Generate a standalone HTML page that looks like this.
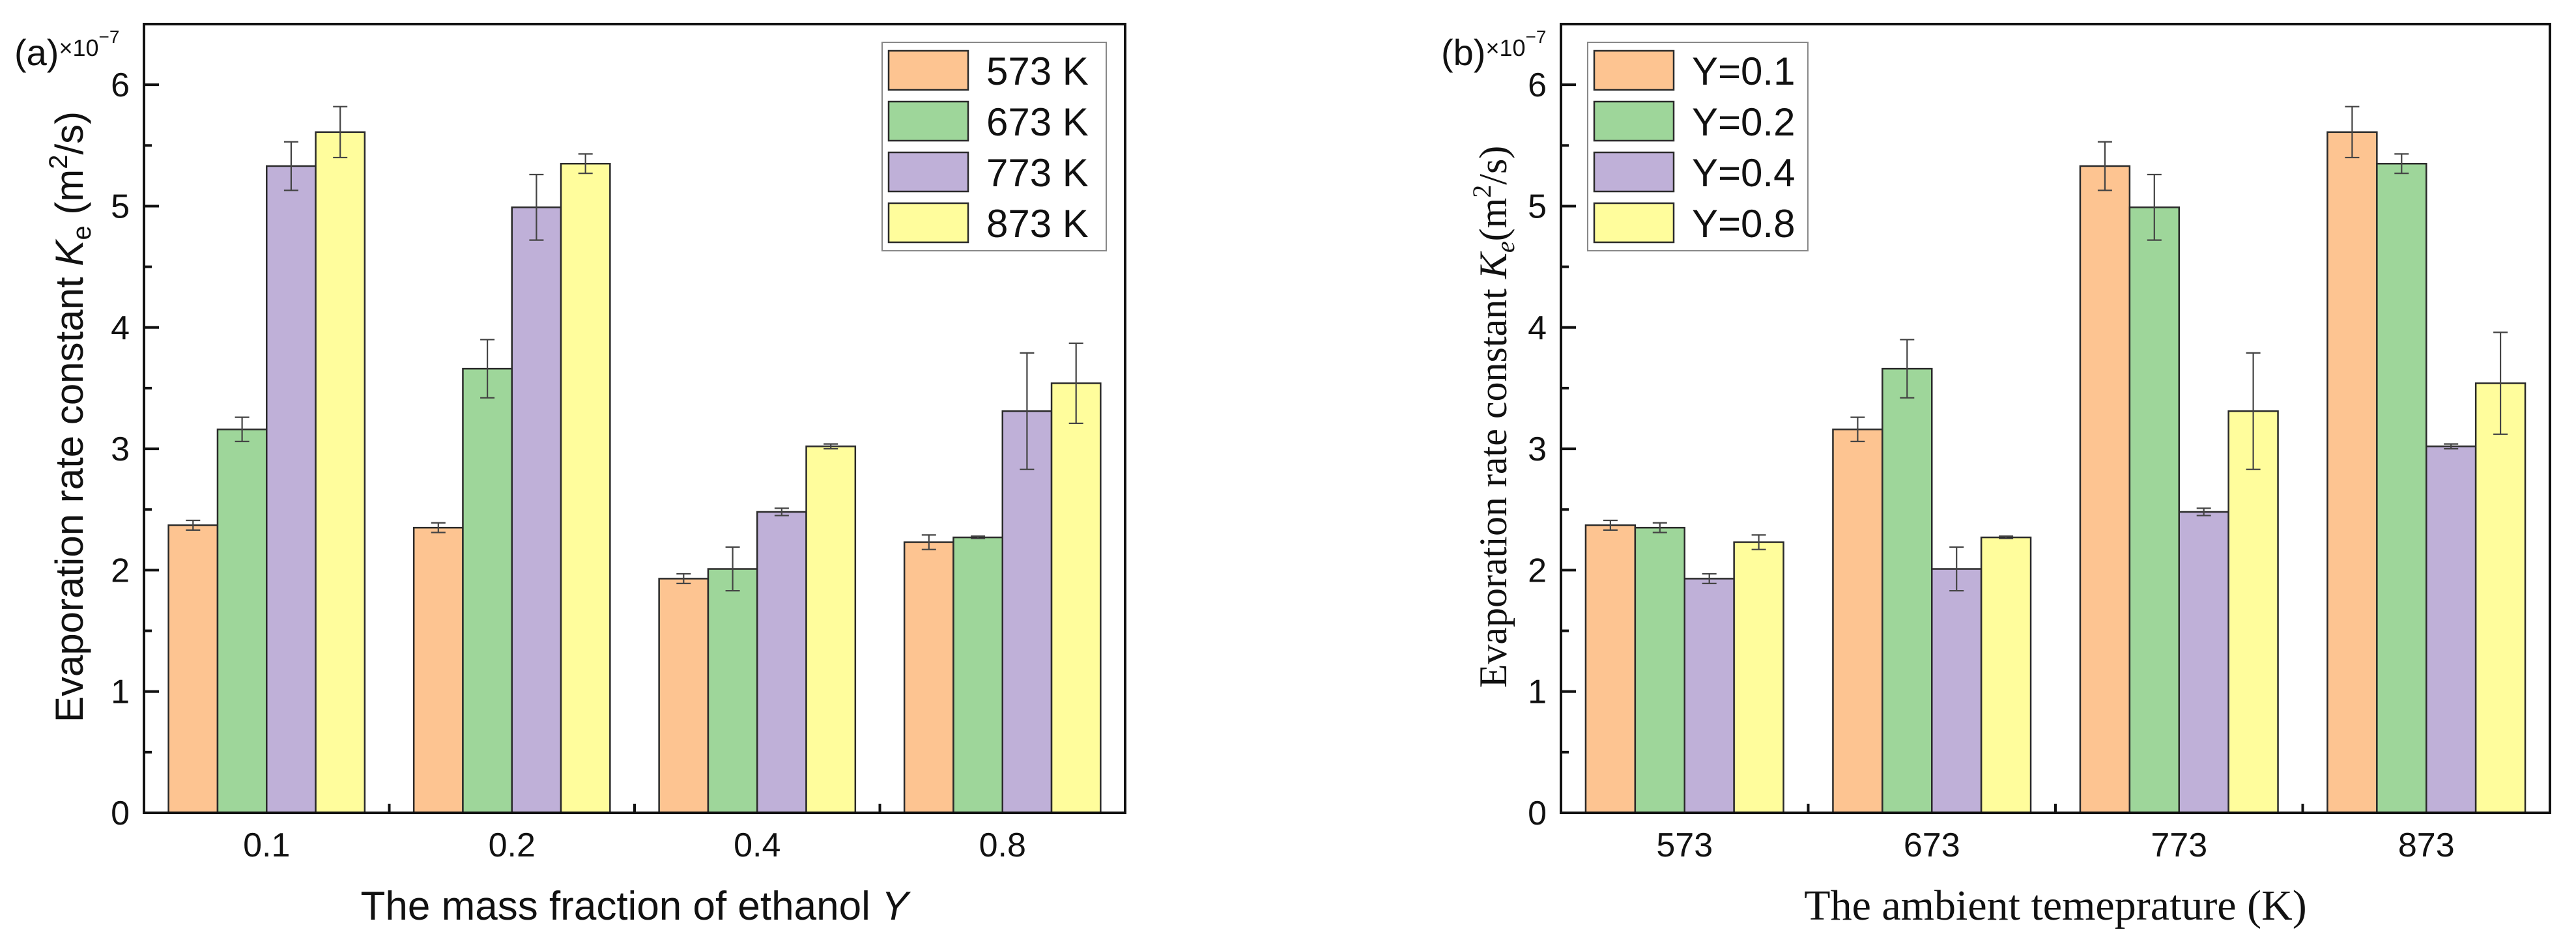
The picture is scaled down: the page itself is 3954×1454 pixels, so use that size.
<!DOCTYPE html>
<html><head><meta charset="utf-8">
<style>
html,body{margin:0;padding:0;background:#fff;}
svg{display:block;}
</style></head>
<body>
<svg id="fig" width="3954" height="1454" viewBox="0 0 3954 1454" xmlns="http://www.w3.org/2000/svg"></svg>
<script>
// Panel (a): groups = ethanol mass fraction, series = temperature
const catsA = ["0.1","0.2","0.4","0.8"];
const seriesA = ["573 K","673 K","773 K","873 K"];
const valsA573 = [2.37, 2.35, 1.93, 2.23];
const valsA673 = [3.16, 3.66, 2.01, 2.27];
const valsA773 = [5.33, 4.99, 2.48, 3.31];
const valsA873 = [5.61, 5.35, 3.02, 3.54];
const errA573 = [0.04, 0.04, 0.04, 0.06];
const errA673 = [0.10, 0.24, 0.18, 0.01];
const errA773 = [0.20, 0.27, 0.03, 0.48];
const errA873 = [0.21, 0.08, 0.02, 0.33];
// Panel (b): groups = temperature, series = Y
const catsB = ["573","673","773","873"];
const seriesB = ["Y=0.1","Y=0.2","Y=0.4","Y=0.8"];
const valsB01 = [2.37, 3.16, 5.33, 5.61];
const valsB02 = [2.35, 3.66, 4.99, 5.35];
const valsB04 = [1.93, 2.01, 2.48, 3.02];
const valsB08 = [2.23, 2.27, 3.31, 3.54];
const errB01 = [0.04, 0.10, 0.20, 0.21];
const errB02 = [0.04, 0.24, 0.27, 0.08];
const errB04 = [0.04, 0.18, 0.03, 0.02];
const errB08 = [0.06, 0.01, 0.48, 0.42];
const yTicks = [0,1,2,3,4,5,6];

const colors = ["#FDC491","#9ED69A","#BFB0D8","#FFFD9C"];
const NS = "http://www.w3.org/2000/svg";
const svg = document.getElementById("fig");
function mk(tag, attrs, parent){
  const e = document.createElementNS(NS, tag);
  for (const k in attrs) e.setAttribute(k, attrs[k]);
  (parent||svg).appendChild(e);
  return e;
}
const Y0 = 1248, YTOP = 37, YMAX = 6.5;
function yScale(v){ return Y0 - v/YMAX*(Y0-YTOP); }

function panel(opt){
  const g = mk("g", {});
  
  
  const L = opt.left, R = opt.right, n = opt.cats.length;
  const step = (R-L)/n;
  const xCenter = i => L + step*(i+0.5);
  const bw = step*0.8/opt.series.length;
  // bars
  opt.series.forEach((s, si) => {
    const vals = opt.vals[si], errs = opt.errs[si];
    vals.forEach((v, ci) => {
      const x = xCenter(ci) - step*0.4 + si*bw;
      const r = mk("rect", {x:x, y:yScale(v), width:bw, height:Y0-yScale(v), fill:colors[si], stroke:"#2a2a2a", "stroke-width":2.5}, g);
      
      
      const cx = x + bw/2, e = errs[ci];
      const eb = mk("path", {d:`M${cx},${yScale(v+e)}V${yScale(v-e)}M${cx-11},${yScale(v+e)}H${cx+11}M${cx-11},${yScale(v-e)}H${cx+11}`, stroke:"#444", "stroke-width":2.2, fill:"none"}, g);
      
      
    });
  });
  // axes frame
  const fr = mk("rect", {x:L, y:YTOP, width:R-L, height:Y0-YTOP, fill:"none", stroke:"#111", "stroke-width":4}, g);
  
  
  // y ticks
  yTicks.forEach(t => {
    const y = yScale(t);
    const tk = mk("line", {x1:L, x2:L+23, y1:y, y2:y, stroke:"#111", "stroke-width":4}, g);
    
    
    const m = yScale(t+0.5);
    if (t < 6) {
      const mt = mk("line", {x1:L, x2:L+12, y1:m, y2:m, stroke:"#111", "stroke-width":4}, g);
      
      
    }
    const tl = mk("text", {x:L-22, y:y+18, "text-anchor":"end", "font-family":"Liberation Sans, Arial, sans-serif", "font-size":52, fill:"#111"}, g);
    tl.textContent = t;
    
    
  });
  // x ticks and labels
  opt.cats.forEach((c, i) => {
    if (i > 0) {
      const xb = L + step*i;
      const t = mk("line", {x1:xb, x2:xb, y1:Y0, y2:Y0-14, stroke:"#111", "stroke-width":4}, g);
      
      
    }
    const tl = mk("text", {x:xCenter(i), y:1315, "text-anchor":"middle", "font-family":"Liberation Sans, Arial, sans-serif", "font-size":52, fill:"#111"}, g);
    tl.textContent = c;
    
    
  });
  // legend
  const lb = mk("rect", {x:opt.legX, y:65, width:opt.legW, height:320, fill:"#fff", stroke:"#888", "stroke-width":2}, g);
  
  
  opt.series.forEach((s, si) => {
    const yy = 78 + si*78;
    const sw = mk("rect", {x:opt.legX+10, y:yy, width:122, height:60, fill:colors[si], stroke:"#2a2a2a", "stroke-width":2.5}, g);
    
    
    const tx = mk("text", {x:opt.legX+160, y:yy+52, "font-family":"Liberation Sans, Arial, sans-serif", "font-size":60, fill:"#111"}, g);
    tx.textContent = s;
    
    
  });
  return {g, L, R};
}

const pa = panel({name:"panel-a", left:221, right:1727, cats:catsA, series:seriesA,
  vals:[valsA573,valsA673,valsA773,valsA873], errs:[errA573,errA673,errA773,errA873],
  legX:1354, legW:344});
const pb = panel({name:"panel-b", left:2396, right:3914, cats:catsB, series:seriesB,
  vals:[valsB01,valsB02,valsB04,valsB08], errs:[errB01,errB02,errB04,errB08],
  legX:2437, legW:338});

// panel labels with multiplier
function corner(x, letter, name){
  const t = mk("text", {x:x, y:100, "font-family":"Liberation Sans, Arial, sans-serif", "font-size":56, fill:"#111"});
  
  
  const a = mk("tspan", {}, t); a.textContent = "(" + letter + ")";
  const b = mk("tspan", {"font-size":36, dy:-14}, t); b.textContent = "×10";
  const c = mk("tspan", {"font-size":28, dy:-20}, t); c.textContent = "−7";
}
corner(22, "a", "panel-a-label");
corner(2212, "b", "panel-b-label");

// y-axis titles
const ya = mk("text", {transform:"translate(127,640) rotate(-90)", "text-anchor":"middle", "font-family":"Liberation Sans, Arial, sans-serif", "font-size":60, fill:"#111"});


ya.innerHTML = 'Evaporation rate constant <tspan font-style="italic">K</tspan><tspan font-size="40" dy="12">e</tspan><tspan dy="-12"> (m</tspan><tspan font-size="40" dy="-24">2</tspan><tspan dy="24">/s)</tspan>';

const yb = mk("text", {transform:"translate(2312,640) rotate(-90)", "text-anchor":"middle", "font-family":"Liberation Serif, Times New Roman, serif", "font-size":60, fill:"#111"});


yb.innerHTML = 'Evaporation rate constant <tspan font-style="italic">K</tspan><tspan font-size="40" font-style="italic" dy="12">e</tspan><tspan dy="-12">(m</tspan><tspan font-size="40" dy="-24">2</tspan><tspan dy="24">/s)</tspan>';

// x-axis titles
const xa = mk("text", {x:974, y:1412, "text-anchor":"middle", "font-family":"Liberation Sans, Arial, sans-serif", "font-size":62, fill:"#111"});


xa.innerHTML = 'The mass fraction of ethanol  <tspan font-style="italic">Y</tspan>';

const xb = mk("text", {x:3155, y:1412, "text-anchor":"middle", "font-family":"Liberation Serif, Times New Roman, serif", "font-size":66, fill:"#111"});


xb.textContent = 'The ambient temeprature (K)';
</script>
</body></html>
